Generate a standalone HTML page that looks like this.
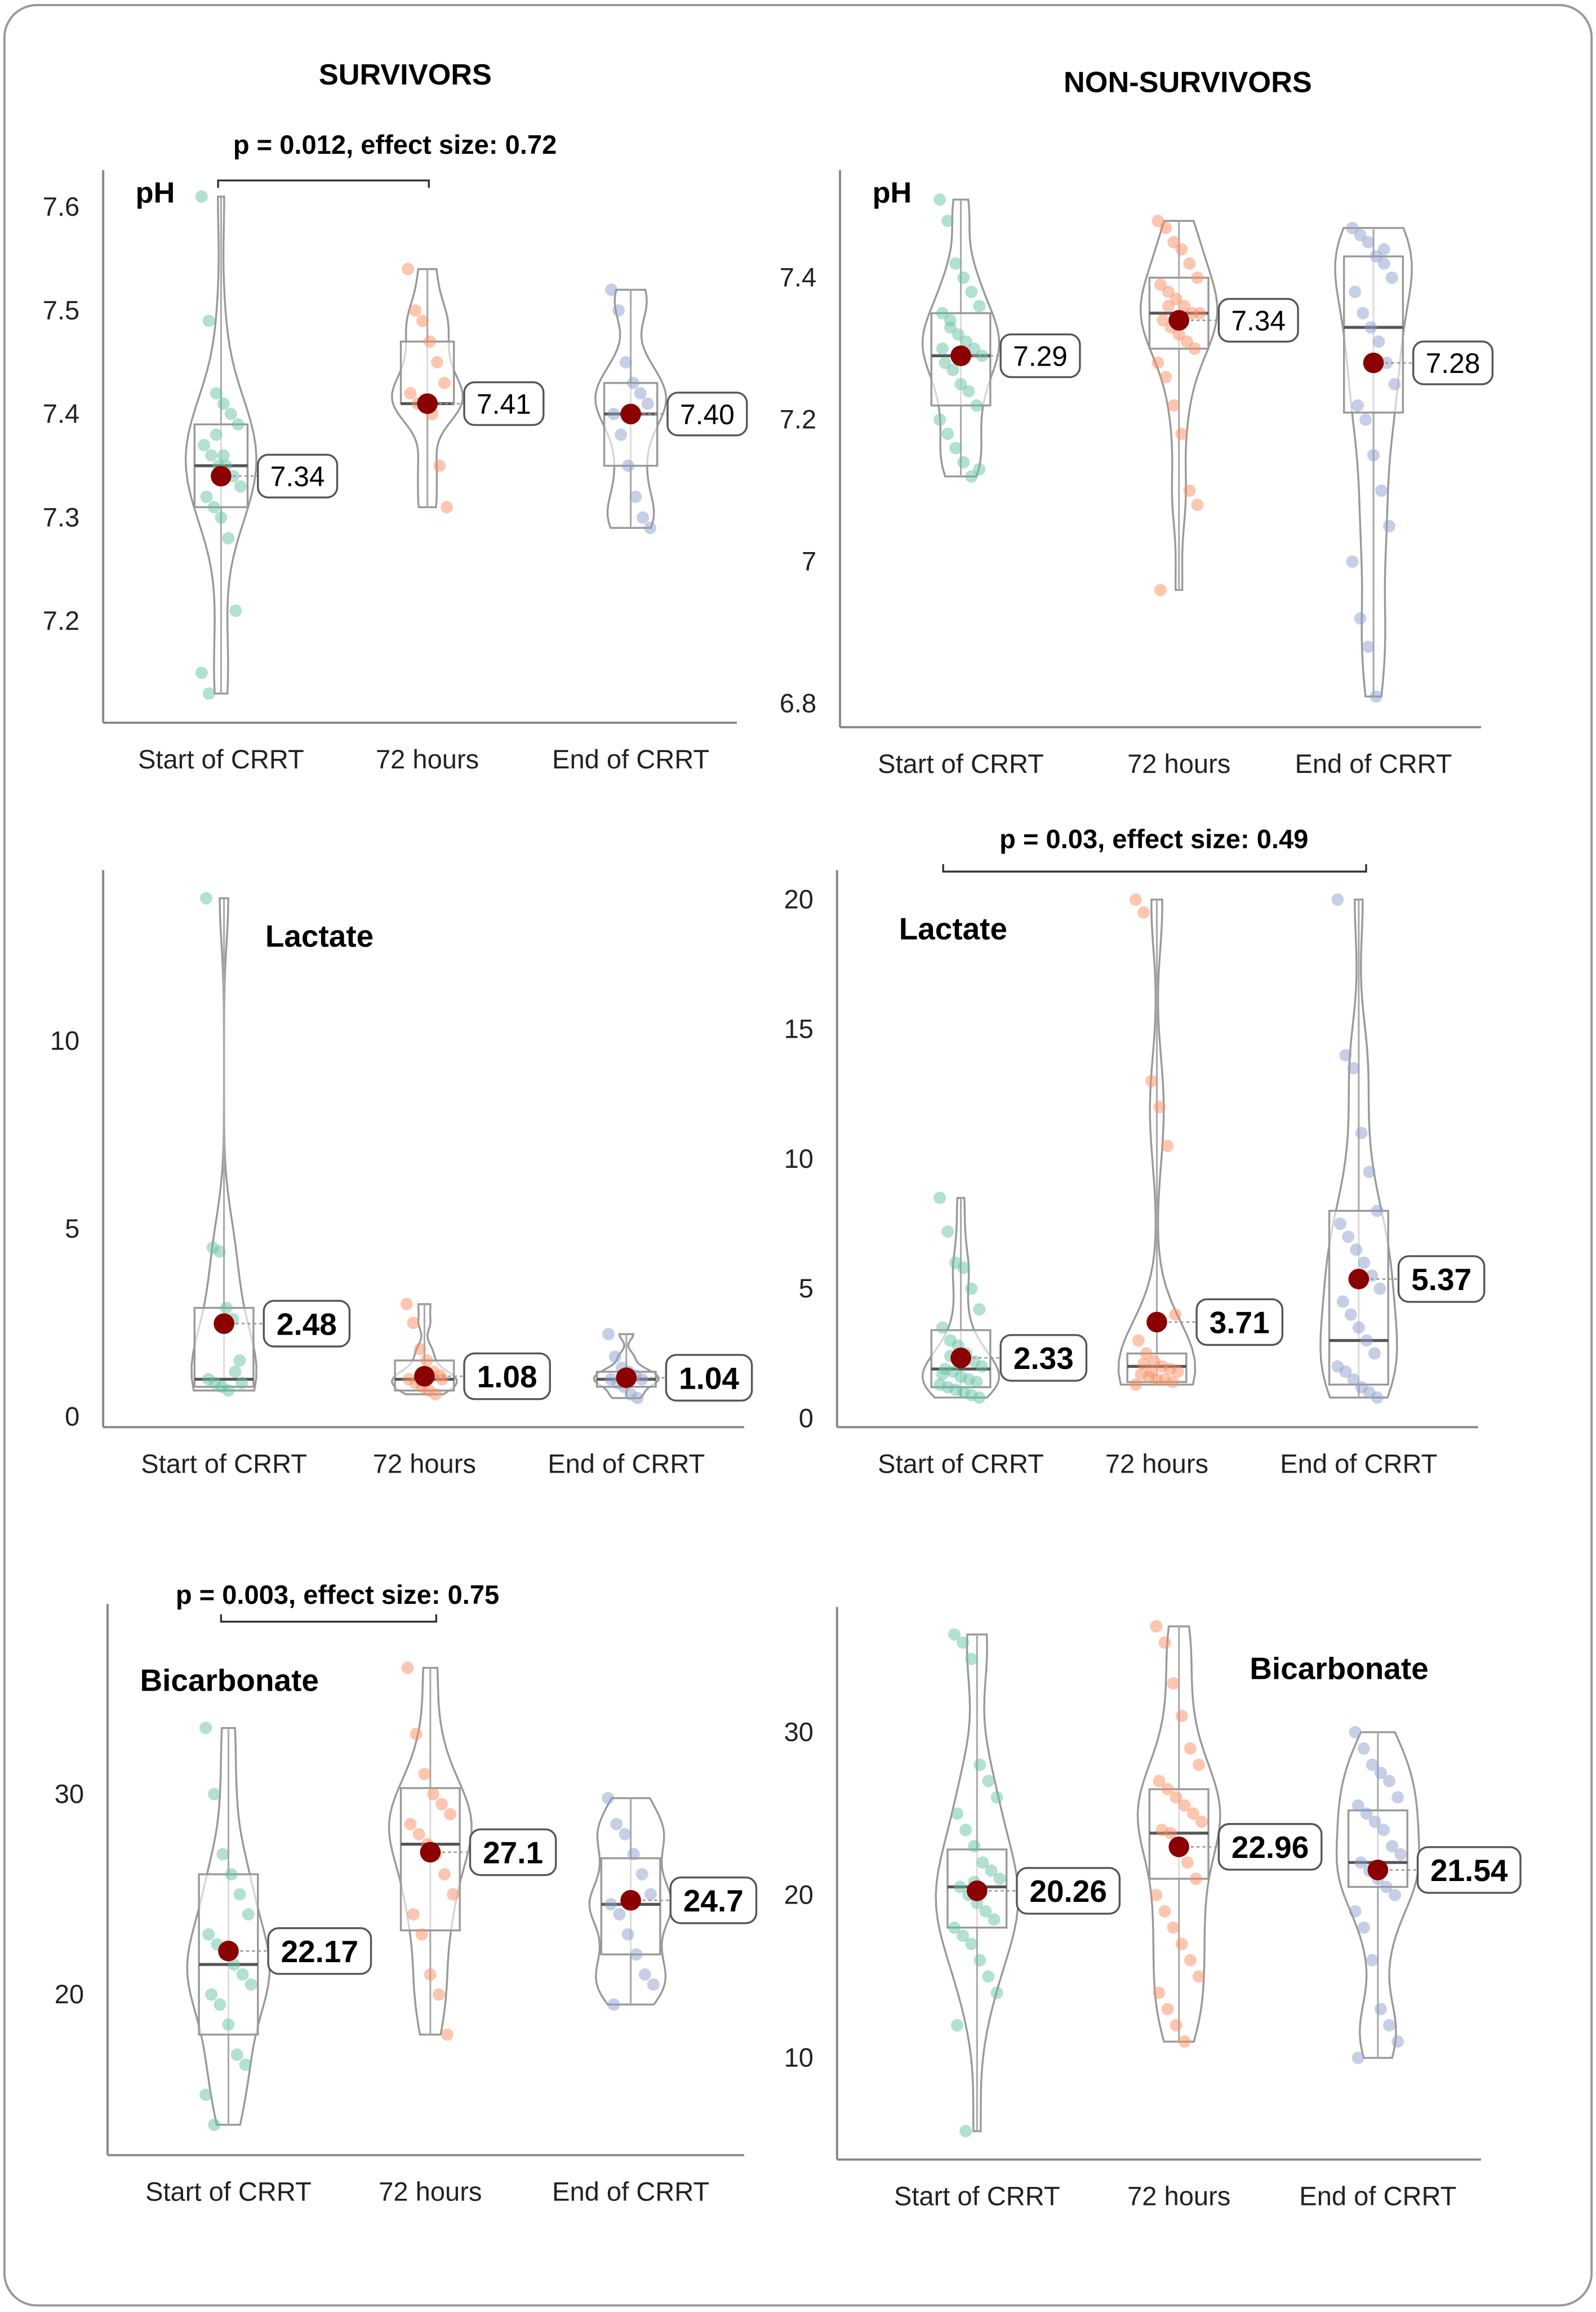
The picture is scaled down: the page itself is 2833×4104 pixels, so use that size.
<!DOCTYPE html>
<html><head><meta charset="utf-8"><style>
html,body{margin:0;padding:0;background:#fff}
svg{display:block}
text{font-family:"Liberation Sans",sans-serif}
</style></head><body>
<svg id="chart" width="2833" height="4104" viewBox="0 0 1083 1568" xmlns="http://www.w3.org/2000/svg">
<rect x="3" y="3" width="1077" height="1561" rx="22" fill="#fff" stroke="#999" stroke-width="1.5"/>
<text x="275" y="57" text-anchor="middle" font-size="20" font-weight="bold">SURVIVORS</text>
<text x="806" y="62" text-anchor="middle" font-size="20" font-weight="bold">NON-SURVIVORS</text>
<g id="plots"></g>
</svg>
<script>
const categories = ["Start of CRRT","72 hours","End of CRRT"];
// Survivors pH
const p1Ticks=[7.2,7.3,7.4,7.5,7.6];
const p1Points=[[7.61,7.49,7.42,7.41,7.40,7.39,7.37,7.36,7.35,7.35,7.34,7.33,7.32,7.31,7.30,7.28,7.21,7.15,7.13,7.38,7.36],[7.54,7.50,7.49,7.47,7.45,7.43,7.42,7.41,7.41,7.40,7.35,7.31],[7.52,7.50,7.45,7.43,7.42,7.41,7.40,7.38,7.35,7.32,7.30,7.29]];
const p1Means=[7.34,7.41,7.40];const p1Medians=[7.35,7.41,7.40];const p1Q1=[7.31,7.41,7.35];const p1Q3=[7.39,7.47,7.43];const p1Labels=["7.34","7.41","7.40"];
// Non-survivors pH
const p2Ticks=[6.8,7,7.2,7.4];
const p2Points=[[7.51,7.48,7.42,7.40,7.38,7.36,7.35,7.33,7.32,7.31,7.30,7.29,7.28,7.27,7.25,7.24,7.22,7.20,7.18,7.16,7.14,7.12,7.13,7.30,7.34],[7.48,7.47,7.45,7.44,7.42,7.40,7.39,7.38,7.37,7.36,7.35,7.35,7.34,7.33,7.32,7.31,7.30,7.28,7.26,7.22,7.18,7.10,7.08,6.96,7.36],[7.47,7.46,7.45,7.43,7.42,7.40,7.38,7.35,7.33,7.31,7.28,7.25,7.22,7.20,7.15,7.10,7.05,7.00,6.92,6.88,6.81,7.44]];
const p2Means=[7.29,7.34,7.28];const p2Medians=[7.29,7.35,7.33];const p2Q1=[7.22,7.30,7.21];const p2Q3=[7.35,7.40,7.43];const p2Labels=["7.29","7.34","7.28"];
// Survivors lactate
const p3Ticks=[0,5,10];
const p3Points=[[13.8,4.5,4.4,2.9,2.6,1.5,1.0,0.9,0.8,0.7,1.2,0.9],[3.0,2.5,1.8,1.5,1.2,1.1,1.0,0.9,0.8,0.7,0.6,1.0],[2.2,1.6,1.3,1.2,1.1,1.0,1.0,0.9,0.8,0.6,0.5]];
const p3Means=[2.48,1.08,1.04];const p3Medians=[1.0,1.0,1.0];const p3Q1=[0.8,0.7,0.8];const p3Q3=[2.9,1.5,1.2];const p3Labels=["2.48","1.08","1.04"];
// Non-survivors lactate
const p4Ticks=[0,5,10,15,20];
const p4Points=[[8.5,7.2,6.0,5.8,5.0,4.2,3.5,3.0,2.8,2.5,2.2,2.0,1.9,1.8,1.6,1.5,1.4,1.3,1.2,1.1,1.0,0.9,0.8,1.7,2.4],[20,19.5,13,12,10.5,4.0,3.0,2.5,2.2,2.0,1.9,1.8,1.7,1.6,1.5,1.5,1.4,1.3,2.1,1.8],[20,14,13.5,11,9.5,8,7.5,7,6.5,6,5.5,5,4.5,4,3.5,3,2.5,2,1.8,1.5,1.2,1.0,0.8]];
const p4Means=[2.33,3.71,5.37];const p4Medians=[1.9,2.0,3.0];const p4Q1=[1.2,1.4,1.3];const p4Q3=[3.4,2.5,8.0];const p4Labels=["2.33","3.71","5.37"];
// Survivors bicarbonate
const p5Ticks=[20,30];
const p5Points=[[33.3,30,27,26,25,24,23,22.5,22,21.5,21,20.5,20,19.5,18.5,17,16.5,15,13.5],[36.3,33,31,30,29.5,29,28.5,28,27.5,27,26,25,24,23,21,20,18],[29.8,28.5,28,27,26,25,24.5,24,23,22,21,20.5,19.5]];
const p5Means=[22.17,27.1,24.7];const p5Medians=[21.5,27.5,24.5];const p5Q1=[18,23.2,22];const p5Q3=[26,30.3,26.8];const p5Labels=["22.17","27.1","24.7"];
// Non-survivors bicarbonate
const p6Ticks=[10,20,30];
const p6Points=[[36,35.5,34.5,28,27,26,25,24,23,22,21.5,21,20.5,20,19.5,19,18.5,18,17.5,17,16,15,14,12,5.5,20.8],[36.5,35.5,33,31,29,28,27,26.5,26,25.5,25,24.5,24,23.8,23,22,21,20,19,18,17,16,15,14,13,12,11],[30,29,28,27.5,27,26,25.5,25,24.5,24,23,22.5,22,21.5,21,20.5,20,19,18,16,13,12,11,10]];
const p6Means=[20.26,22.96,21.54];const p6Medians=[20.5,23.8,22];const p6Q1=[18,21,20.5];const p6Q3=[22.8,26.5,25.2];const p6Labels=["20.26","22.96","21.54"];

const colors=["#66c2a5","#fc8d62","#8da0cb"];
const NS="http://www.w3.org/2000/svg";
const root=document.getElementById('plots');
function mk(tag,attrs,parent){const e=document.createElementNS(NS,tag);for(const k in attrs)e.setAttribute(k,attrs[k]);(parent||root).appendChild(e);return e;}

const panels=[
 {id:"surv-ph",title:"pH",tx:92,ty:137,tfs:20,ax:70,top:115,bot:490,right:500,v0:7.2,y0:421,v1:7.6,y1:140,cx:[150,290,428],ticks:p1Ticks,pts:p1Points,mean:p1Means,med:p1Medians,q1:p1Q1,q3:p1Q3,lab:p1Labels,lfs:19,bw:36,vw:24,fmt:v=>v.toFixed(1)},
 {id:"nonsurv-ph",title:"pH",tx:592,ty:137,tfs:20,ax:570,top:115,bot:493,right:1005,v0:6.8,y0:477,v1:7.4,y1:188,cx:[652,800,932],ticks:p2Ticks,pts:p2Points,mean:p2Means,med:p2Medians,q1:p2Q1,q3:p2Q3,lab:p2Labels,lfs:19,bw:40,vw:26,fmt:v=>v===7?"7":v.toFixed(1)},
 {id:"surv-lactate",title:"Lactate",tx:180,ty:642,tfs:21,ax:70,top:590,bot:968,right:505,v0:0,y0:961,v1:10,y1:706,cx:[152,288,425],ticks:p3Ticks,pts:p3Points,mean:p3Means,med:p3Medians,q1:p3Q1,q3:p3Q3,lab:p3Labels,lfs:21,bw:40,vw:22,fmt:v=>String(v)},
 {id:"nonsurv-lactate",title:"Lactate",tx:610,ty:637,tfs:21,ax:568,top:590,bot:968,right:1003,v0:0,y0:962,v1:20,y1:610,cx:[652,785,922],ticks:p4Ticks,pts:p4Points,mean:p4Means,med:p4Medians,q1:p4Q1,q3:p4Q3,lab:p4Labels,lfs:21,bw:40,vw:26,fmt:v=>String(v)},
 {id:"surv-bicarbonate",title:"Bicarbonate",tx:95,ty:1147,tfs:21,ax:73,top:1088,bot:1462,right:505,v0:20,y0:1353,v1:30,y1:1217,cx:[155,292,428],ticks:p5Ticks,pts:p5Points,mean:p5Means,med:p5Medians,q1:p5Q1,q3:p5Q3,lab:p5Labels,lfs:21,bw:40,vw:28,fmt:v=>String(v)},
 {id:"nonsurv-bicarbonate",title:"Bicarbonate",tx:848,ty:1139,tfs:21,ax:568,top:1090,bot:1465,right:1005,v0:10,y0:1396,v1:30,y1:1175,cx:[663,800,935],ticks:p6Ticks,pts:p6Points,mean:p6Means,med:p6Medians,q1:p6Q1,q3:p6Q3,lab:p6Labels,lfs:21,bw:40,vw:28,fmt:v=>String(v)}
];

panels.forEach(P=>{
 const g=mk('g',{});
 
 
 const y=v=>P.y0+(v-P.v0)*(P.y1-P.y0)/(P.v1-P.v0);
 const ya=mk('line',{x1:P.ax,y1:P.top,x2:P.ax,y2:P.bot,stroke:"#888","stroke-width":1.5},g);
 
 
 const xa=mk('line',{x1:P.ax,y1:P.bot,x2:P.right,y2:P.bot,stroke:"#888","stroke-width":1.5},g);
 
 
 P.ticks.forEach(t=>{
  const tl=mk('text',{x:P.ax-16,y:y(t)+6,'text-anchor':'end','font-size':18,fill:'#222'},g);
  tl.textContent=P.fmt(t);
  
  
 });
 const tt=mk('text',{x:P.tx,y:P.ty,'font-size':P.tfs,'font-weight':'bold'},g);
 tt.textContent=P.title;
 
 
 categories.forEach((c,i)=>{
  const cl=mk('text',{x:P.cx[i],y:P.bot+31,'text-anchor':'middle','font-size':18,fill:'#222'},g);
  cl.textContent=c;
  
  
  const pts=P.pts[i];const mn=Math.min(...pts),mx=Math.max(...pts);const h=Math.max((mx-mn)*0.09,1e-6);
  const N=40,dens=[];
  for(let k=0;k<=N;k++){const v=mn+(mx-mn)*k/N;let d=0;pts.forEach(p=>{const z=(v-p)/h;d+=Math.exp(-0.5*z*z);});dens.push([v,d]);}
  const dm=Math.max(...dens.map(d=>d[1]));
  let path="";dens.forEach((d,k)=>{path+=(k?"L":"M")+(P.cx[i]+d[1]/dm*P.vw)+","+y(d[0]);});
  for(let k=N;k>=0;k--){path+="L"+(P.cx[i]-dens[k][1]/dm*P.vw)+","+y(dens[k][0]);}
  path+="Z";
  const vi=mk('path',{d:path,fill:'none',stroke:'#999','stroke-width':1.3},g);
  
  
  const wl=mk('line',{x1:P.cx[i],y1:y(mx),x2:P.cx[i],y2:y(mn),stroke:'#aaa','stroke-width':1.2},g);
  
  
  const bx=mk('rect',{x:P.cx[i]-P.bw/2,y:y(P.q3[i]),width:P.bw,height:y(P.q1[i])-y(P.q3[i]),fill:'rgba(255,255,255,0.6)',stroke:'#999','stroke-width':1.3},g);
  
  
  const md=mk('line',{x1:P.cx[i]-P.bw/2,y1:y(P.med[i]),x2:P.cx[i]+P.bw/2,y2:y(P.med[i]),stroke:'#555','stroke-width':2},g);
  
  
  pts.forEach((p,j)=>{
   const jx=((j*37)%17-8)/8*P.vw*0.55;
   const c=mk('circle',{cx:P.cx[i]+jx,cy:y(p),r:4.2,fill:colors[i],'fill-opacity':0.5},g);
   
   
  });
  const my=y(P.mean[i]);
  const lw=P.lab[i].length*P.lfs*0.55+12,lh=P.lfs+10,lx=P.cx[i]+P.bw/2+7;
  const ld=mk('line',{x1:P.cx[i],y1:my,x2:lx,y2:my,stroke:'#999','stroke-width':1,'stroke-dasharray':'2,2'},g);
  
  
  const lb=mk('rect',{x:lx,y:my-lh/2,width:lw,height:lh,rx:7,fill:'#fff',stroke:'#555','stroke-width':1.3},g);
  
  
  const lt=mk('text',{x:lx+lw/2,y:my+P.lfs*0.36,'text-anchor':'middle','font-size':P.lfs,'font-weight':P.lfs>20?'bold':'normal'},g);
  lt.textContent=P.lab[i];
  
  
  const mc=mk('circle',{cx:P.cx[i],cy:my,r:7,fill:'#8b0000'},g);
  
  
 });
});

const brackets=[
 {t:"p = 0.012, effect size:  0.72",tx:268,ty:104,x1:148,x2:291,y:122,dir:1},
 {t:"p = 0.03, effect size: 0.49",tx:783,ty:575,x1:640,x2:927,y:591,dir:-1},
 {t:"p = 0.003, effect size: 0.75",tx:229,ty:1088,x1:150,x2:296,y:1100,dir:-1}
];
brackets.forEach(b=>{
 const pl=mk('path',{d:`M${b.x1},${b.y+5*b.dir}L${b.x1},${b.y}L${b.x2},${b.y}L${b.x2},${b.y+5*b.dir}`,fill:'none',stroke:'#333','stroke-width':1.3});
 
 
 const t=mk('text',{x:b.tx,y:b.ty,'text-anchor':'middle','font-size':18,'font-weight':'bold'});
 t.textContent=b.t;
 
 
});
</script>
</body></html>
